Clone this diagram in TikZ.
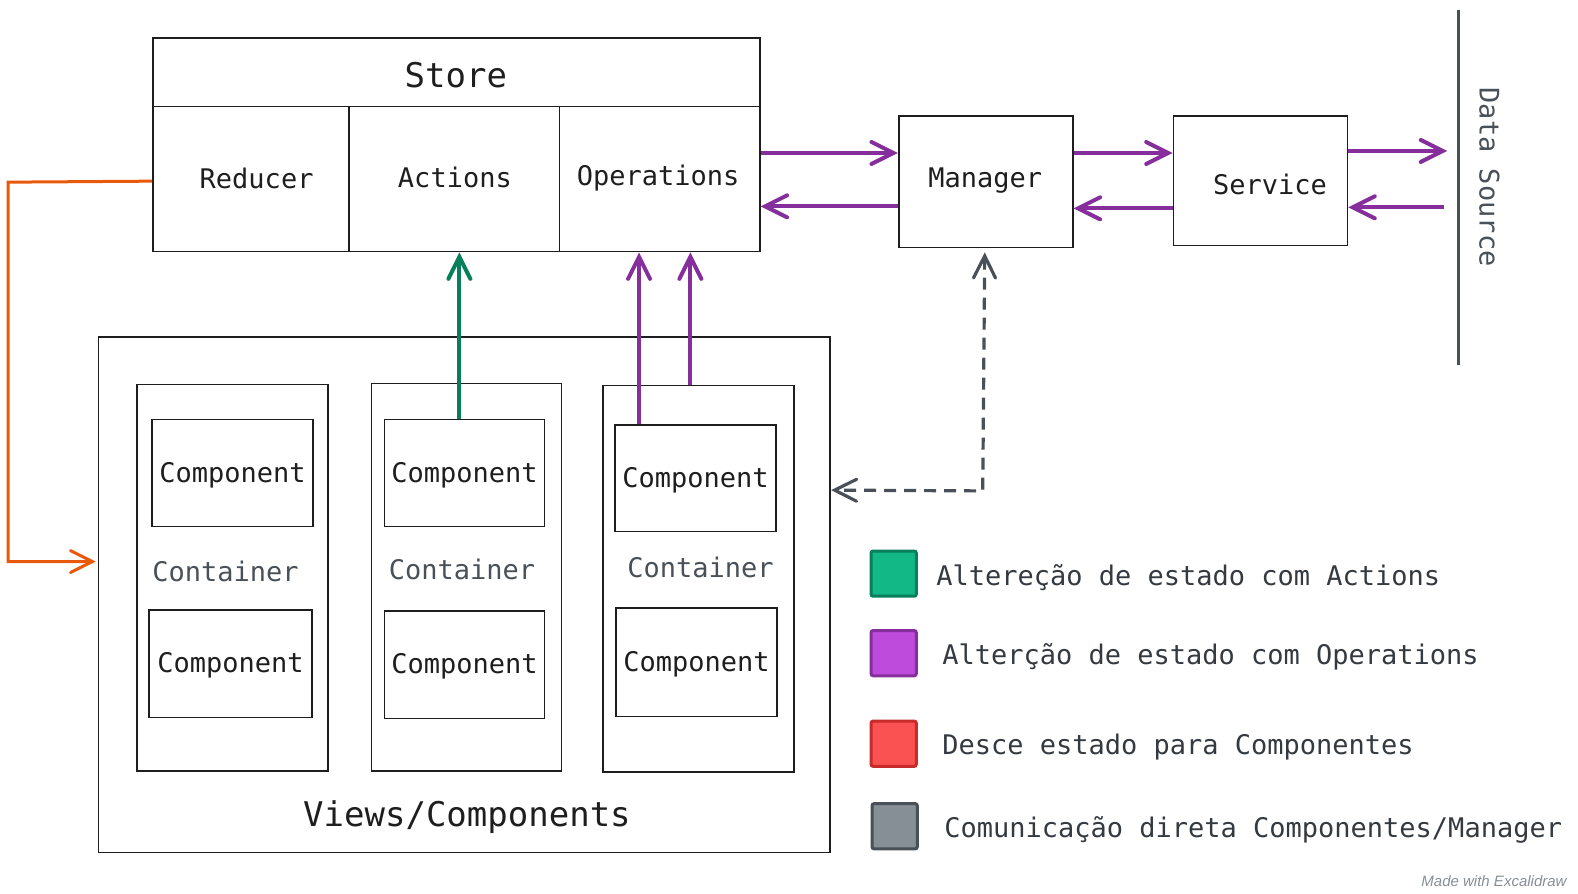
\documentclass[tikz,border=0pt]{standalone}
\usepackage{fontspec}
\setmonofont{DejaVu Sans Mono}
\setsansfont{Liberation Sans}
\usetikzlibrary{arrows.meta,fit,calc}

\definecolor{ink}{HTML}{1E1E1E}
\definecolor{slate}{HTML}{495057}
\definecolor{legendink}{HTML}{343A40}
\definecolor{opviolet}{HTML}{862E9C}
\definecolor{actgreen}{HTML}{087F5B}
\definecolor{downorange}{HTML}{E8590C}
\definecolor{greenfill}{HTML}{12B886}
\definecolor{violetfill}{HTML}{BE4BDB}
\definecolor{redfill}{HTML}{FA5252}
\definecolor{redline}{HTML}{C92A2A}
\definecolor{grayfill}{HTML}{868E96}

\tikzset{
  box/.style={draw=ink, line width=0.8pt, inner sep=0pt},
  boxtext/.style={inner sep=0pt, text=ink, font=\ttfamily\fontsize{13.5}{16}\selectfont},
  bigtext/.style={inner sep=0pt, text=ink, font=\ttfamily\fontsize{17}{20}\selectfont},
  contlabel/.style={inner sep=0pt, text=slate, font=\ttfamily\fontsize{13.5}{16}\selectfont},
  legbox/.style={line width=1.5pt, minimum size=22.6pt, inner sep=0pt, rounded corners=1pt},
  legtext/.style={anchor=west, inner sep=0pt, text=legendink, font=\ttfamily\fontsize{13.5}{16}\selectfont},
  barb/.tip={Straight Barb[length=11pt,width=11pt,line cap=round]},
  oparrow/.style={draw=opviolet, line width=2pt, -barb},
  actarrow/.style={draw=actgreen, line width=2pt, -barb},
  downarrow/.style={draw=downorange, line width=1.5pt, -barb},
  directarrow/.style={draw=slate, line width=1.6pt, dashed, dash pattern=on 6pt off 4pt, barb-barb}
}

\begin{document}
\begin{tikzpicture}[x=0.5032pt, y=-0.5032pt]
\useasboundingbox (0,0) rectangle (1568,888);

% Store
\node[box, fit={(152,38) (755,106)}] (store) {};
\node[box, fit={(152,106) (347,250)}] (reducer) {};
\node[box, fit={(347,106) (556,250)}] (actions) {};
\node[box, fit={(556,106) (755,250)}] (operations) {};
\node[bigtext] (storetext) at (453,75) {Store};
\node[boxtext] (reducertext) at (255,177) {Reducer};
\node[boxtext] (actionstext) at (452,176) {Actions};
\node[boxtext] (operationstext) at (654,177) {Operations};

\node[box, fit={(893,115) (1066,246)}] (manager) {};
\node[box, fit={(1166,115) (1339,244)}] (service) {};
\node[boxtext] (managertext) at (979,179) {Manager};
\node[boxtext] (servicetext) at (1262,183) {Service};

% data source
\coordinate (dstop) at (1449,10);
\coordinate (dsbot) at (1449,363);
\draw[slate, line width=1.5pt] (dstop) -- (dsbot);
\node[rotate=-90, inner sep=0pt, text=slate, font=\ttfamily\fontsize{13.5}{16}\selectfont] (datasource) at (1480,176) {Data Source};
\coordinate (dsin) at (1438,150);
\coordinate (dsout) at (1435,206);

% views
\node[box, fit={(98,335) (825,847)}] (views) {};
\node[bigtext] (viewstext) at (464,812) {Views/Components};

\node[box, fit={(136,382) (326,766)}] (cont1) {};
\node[box, fit={(369,381) (558,766)}] (cont2) {};
\node[box, fit={(599,383) (789,767)}] (cont3) {};
\node[contlabel] (cont1label) at (224,568) {Container};
\node[contlabel] (cont2label) at (459,566) {Container};
\node[contlabel] (cont3label) at (696,564) {Container};

\node[box, fit={(151,417) (311,523)}] (comp1a) {};
\node[box, fit={(148,606) (310,713)}] (comp1b) {};
\node[box, fit={(382,417) (541,523)}] (comp2a) {};
\node[box, fit={(382,607) (541,714)}] (comp2b) {};
\node[box, fit={(611,422) (771,528)}] (comp3a) {};
\node[box, fit={(612,604) (772,712)}] (comp3b) {};
\node[boxtext] at (comp1a.center) [yshift=-1pt] (comp1atext) {Component};
\node[boxtext] at (comp1b.center) [yshift=-1pt] (comp1btext) {Component};
\node[boxtext] at (comp2a.center) [yshift=-1pt] (comp2atext) {Component};
\node[boxtext] at (comp2b.center) [yshift=-1pt] (comp2btext) {Component};
\node[boxtext] at (comp3a.center) [yshift=-1pt] (comp3atext) {Component};
\node[boxtext] at (comp3b.center) [yshift=-1pt] (comp3btext) {Component};

% arrows
\draw[oparrow] (operations.east |- 0,152) -- (manager.west |- 0,152);
\draw[oparrow] (manager.west |- 0,205) -- (operations.east |- 0,205);
\draw[oparrow] (manager.east |- 0,152) -- (service.west |- 0,152);
\draw[oparrow] (service.west |- 0,207) -- (manager.east |- 0,207);
\draw[oparrow] (service.east |- dsin) -- (dsin);
\draw[oparrow] (dsout) -- (service.east |- dsout);

\coordinate (actfoot) at ($(comp2a.north)+(-5,0)$);
\coordinate (opfoot1) at ($(comp3a.north)+(-56,0)$);
\coordinate (opfoot2) at ($(cont3.north)+(-8,0)$);
\draw[actarrow] (actfoot) -- (actfoot |- actions.south);
\draw[oparrow] (opfoot1) -- (opfoot1 |- operations.south);
\draw[oparrow] (opfoot2) -- (opfoot2 |- operations.south);

\draw[directarrow] ($(manager.south)+(-1,4)$) -- ($(manager.south)+(-3,241)$) -- (views.east |- 0,487);
\draw[downarrow] (reducer.west |- 0,180) -- (8,181) |- ($(views.west |- 0,558)+(-2,0)$);

% legend
\node[legbox, draw=actgreen, fill=greenfill] (keyact) at (888,570) {};
\node[legbox, draw=opviolet, fill=violetfill] (keyop) at (888,649) {};
\node[legbox, draw=redline, fill=redfill] (keydown) at (888,739) {};
\node[legbox, draw=slate, fill=grayfill] (keydirect) at (889,821) {};
\node[legtext] (txtact) at (930,574) {Altereção de estado com Actions};
\node[legtext] (txtop) at (936,653) {Alterção de estado com Operations};
\node[legtext] (txtdown) at (936,742) {Desce estado para Componentes};
\node[legtext] (txtdirect) at (938,825) {Comunicação direta Componentes/Manager};

\node[anchor=east, inner sep=0pt, text=grayfill, font=\sffamily\itshape\fontsize{7.5}{9}\selectfont] (madewith) at (1557,876) {Made with Excalidraw};
\end{tikzpicture}
\end{document}
